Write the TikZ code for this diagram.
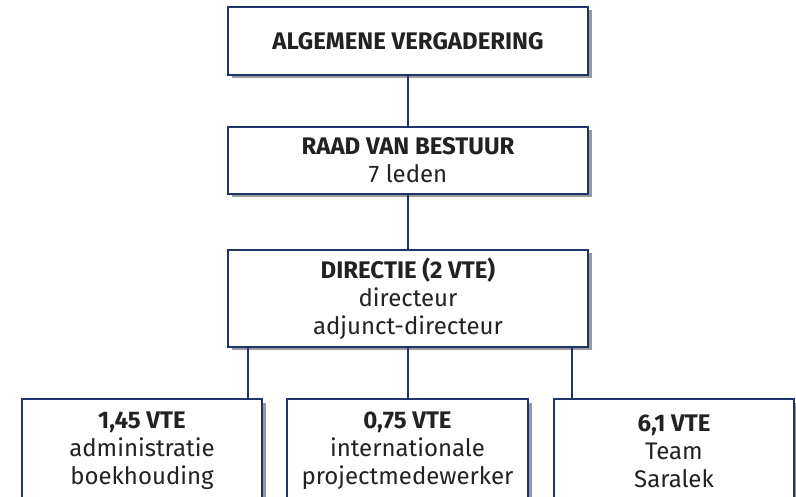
\documentclass[tikz,border=0pt]{standalone}
\usepackage{fontspec}
\setmainfont{Fira Sans}
\usetikzlibrary{shadows}
\definecolor{navy}{HTML}{1F3468}
\definecolor{shad}{HTML}{9A9A9A}
\definecolor{txt}{HTML}{222222}
\begin{document}
\begin{tikzpicture}[x=1pt,y=-1pt,
  box/.style={draw=navy, line width=1.3pt, fill=white, align=center, inner sep=0pt,
    text=txt, font=\fontsize{24}{28}\selectfont,
    drop shadow={shadow xshift=3.5pt, shadow yshift=-3.5pt, fill=shad, opacity=1}},
  conn/.style={draw=navy, line width=2pt}]
\useasboundingbox (0,0) rectangle (796,497);
\clip (0,0) rectangle (796,497);
\node[box, minimum width=360pt, minimum height=68pt] (av) at (408,41) {\bfseries ALGEMENE VERGADERING};
\node[box, minimum width=360pt, minimum height=67pt] (rvb) at (408,160.5) {\bfseries RAAD VAN BESTUUR\\7 leden};
\node[box, minimum width=360pt, minimum height=97pt] (dir) at (408,298.5) {\bfseries DIRECTIE (2 VTE)\\directeur\\adjunct-directeur};
\node[box, minimum width=240pt, minimum height=104pt] (adm) at (142,451) {\bfseries 1,45 VTE\\administratie\\boekhouding};
\node[box, minimum width=241pt, minimum height=104pt] (int) at (407.5,451) {\bfseries 0,75 VTE\\internationale\\projectmedewerker};
\node[box, minimum width=240pt, minimum height=104pt] (team) at (674,451) {\bfseries 6,1 VTE\\Team\\Saralek};
\draw[conn] (av.south) -- (rvb.north);
\draw[conn] (rvb.south) -- (dir.north);
\draw[conn] ([xshift=21pt]dir.south west) -- ([xshift=21pt]dir.south west |- adm.north);
\draw[conn] (dir.south) -- (dir.south |- int.north);
\draw[conn] ([xshift=-17pt]dir.south east) -- ([xshift=-17pt]dir.south east |- team.north);
\end{tikzpicture}
\end{document}
